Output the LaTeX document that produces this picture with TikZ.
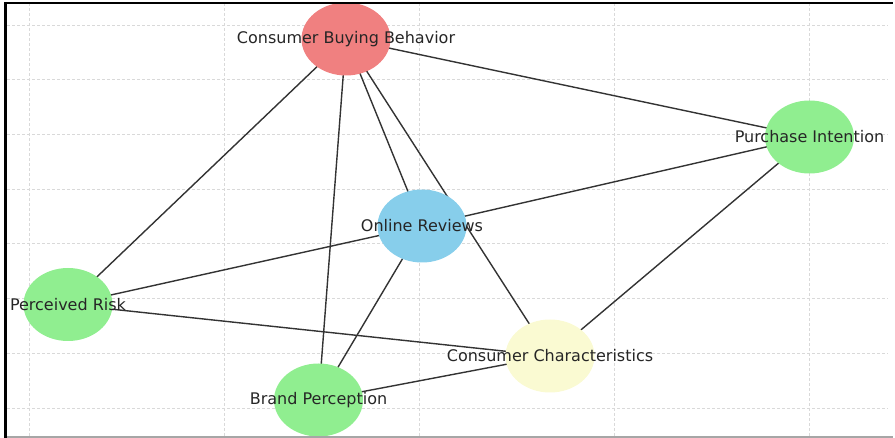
\documentclass[tikz,border=0pt]{standalone}
\usepackage{fontspec}
\setmainfont{DejaVu Sans}
\usetikzlibrary{shapes.geometric,backgrounds}

\definecolor{coralred}{HTML}{F08080}
\definecolor{palegreen}{HTML}{90EE90}
\definecolor{skyblue}{HTML}{87CEEB}
\definecolor{paleyellow}{HTML}{FAFAD2}

\begin{document}
\begin{tikzpicture}[
x=1pt,y=-1pt,
topic/.style={
ellipse,
minimum width=89pt,
minimum height=73pt,
inner sep=0pt
},
tag/.style={
font=\fontsize{16}{18}\selectfont,
text=black!85,
inner sep=0pt
},
link/.style={draw=black!80,line width=1.4pt},
gridline/.style={draw=gray!30,line width=0.9pt,dash pattern=on 3pt off 2pt}
]

\useasboundingbox (0,0) rectangle (895,438);

% nodes
\node[topic,fill=coralred] (CBB) at (346,39) {};
\node[topic,fill=palegreen] (PI) at (809.5,137) {};
\node[topic,fill=skyblue] (OR) at (422,226) {};
\node[topic,fill=palegreen] (PR) at (68,304.5) {};
\node[topic,fill=paleyellow] (CC) at (550,356) {};
\node[topic,fill=palegreen] (BP) at (318.5,400) {};

\begin{pgfonlayer}{background}
% grid
\foreach \x in {29,224,419,614,809}
  \draw[gridline] (\x,3) -- (\x,437);
\foreach \y in {25,79.7,134.4,189.1,243.8,298.5,353.2,408}
  \draw[gridline] (7,\y) -- (888,\y);

% edges
\draw[link] (CBB.center) -- (PI.center);
\draw[link] (CBB.center) -- (PR.center);
\draw[link] (CBB.center) -- (BP.center);
\draw[link] (CBB.center) -- (OR.center);
\draw[link] (CBB.center) -- (CC.center);

\draw[link] (OR.center) -- (PI.center);
\draw[link] (OR.center) -- (PR.center);
\draw[link] (OR.center) -- (BP.center);

\draw[link] (CC.center) -- (PI.center);
\draw[link] (CC.center) -- (PR.center);
\draw[link] (CC.center) -- (BP.center);
\end{pgfonlayer}

% labels
\node[tag] (CBBt) at (CBB) {Consumer Buying Behavior};
\node[tag] (PIt) at (PI) {Purchase Intention};
\node[tag] (ORt) at (OR) {Online Reviews};
\node[tag] (PRt) at (PR) {Perceived Risk};
\node[tag] (CCt) at (CC) {Consumer Characteristics};
\node[tag] (BPt) at (BP) {Brand Perception};

% frame
\draw[gray!70,line width=1.5pt] (4,437) -- (893,437);
\draw[black,line width=2.5pt] (4,3) -- (893,3);
\draw[black,line width=2.5pt] (5.5,2) -- (5.5,438);

\end{tikzpicture}
\end{document}
